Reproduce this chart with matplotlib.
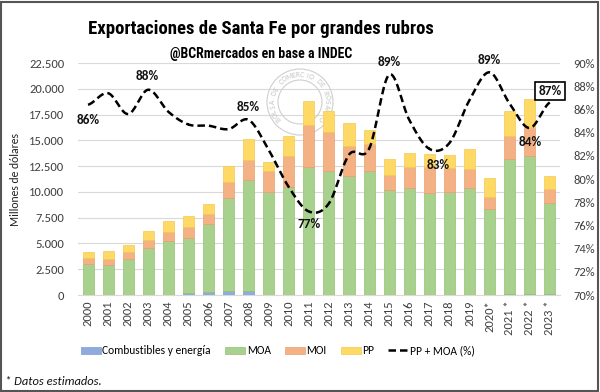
import numpy as np
import matplotlib.pyplot as plt
from matplotlib.patches import Rectangle, Circle

# Data (millones de dólares)
years = ["2000", "2001", "2002", "2003", "2004", "2005", "2006", "2007", "2008",
         "2009", "2010", "2011", "2012", "2013", "2014", "2015", "2016", "2017",
         "2018", "2019", "2020*", "2021 *", "2022 *", "2023 *"]
combustibles = [20, 20, 20, 50, 50, 200, 250, 400, 350, 30, 30, 40, 40, 30, 30,
                20, 20, 20, 20, 20, 20, 60, 60, 60]
moa = [2950, 2890, 3470, 4540, 5210, 5360, 6630, 9000, 10760, 9980, 10470,
       12330, 11940, 11470, 11950, 10150, 10380, 9830, 9990, 10380, 8310,
       13090, 13410, 8820]
moi = [580, 550, 640, 710, 880, 1060, 1000, 1610, 1940, 2040, 3000, 4100,
       3810, 2970, 2620, 1430, 2000, 2520, 2330, 1870, 1170, 2320, 2780, 1390]
pp = [650, 800, 720, 930, 1000, 1030, 970, 1490, 2130, 840, 1910, 2330, 2040,
      2260, 1390, 1580, 1390, 1290, 1260, 1940, 1840, 2360, 2810, 1260]
pct = [86.4, 87.4, 85.6, 87.7, 85.8, 84.7, 84.6, 84.3, 85.1, 82.5, 79.3, 77.2,
       77.9, 82.1, 82.6, 89.0, 85.1, 82.6, 83.1, 86.8, 89.2, 86.5, 84.4, 86.6]

# labels shown on the line: (index, y position in %, text)
pct_labels = [(0, 85.1, "86%"), (2.94, 88.9, "88%"), (8, 86.2, "85%"),
              (11, 76.1, "77%"), (15, 90.1, "89%"), (17.45, 81.2, "83%"),
              (20, 90.3, "89%"), (22.05, 83.2, "84%")]

plt.rcParams['font.family'] = ['Carlito', 'Lato', 'DejaVu Sans']
title_font = ['Roboto Condensed', 'Archivo Narrow', 'PT Sans Narrow',
              'Asap Condensed', 'Barlow Semi Condensed', 'DejaVu Sans']

c_comb = "#8FAADC"
c_moa = "#A9D18E"
c_moi = "#F4B183"
c_pp = "#FFD966"

fig = plt.figure(figsize=(6, 3.92), dpi=100)
ax = fig.add_axes([0.13, 0.2474, 0.803, 0.5918])
ax2 = ax.twinx()

x = np.arange(len(years))
w = 0.55
b1 = np.array(combustibles)
b2 = b1 + np.array(moa)
b3 = b2 + np.array(moi)
ax.bar(x, combustibles, w, color=c_comb, edgecolor="#7F9BCF", linewidth=0.5,
       label="Combustibles y energía", zorder=3)
ax.bar(x, moa, w, bottom=b1, color=c_moa, edgecolor="#93C070", linewidth=0.5,
       label="MOA", zorder=3)
ax.bar(x, moi, w, bottom=b2, color=c_moi, edgecolor="#E9A071", linewidth=0.5,
       label="MOI", zorder=3)
ax.bar(x, pp, w, bottom=b3, color=c_pp, edgecolor="#F2CB4F", linewidth=0.5,
       label="PP", zorder=3)

ax.set_xlim(-0.5, len(years) - 0.5)
ax.set_ylim(0, 22500)
ax.set_yticks(np.arange(0, 22501, 2500))
ax.set_yticklabels([f"{v:,.0f}".replace(",", ".") for v in np.arange(0, 22501, 2500)])
ax.grid(axis="y", color="#D9D9D9", linewidth=0.8, zorder=0)
ax.set_axisbelow(True)
ax.set_xticks(x)
ax.set_xticklabels(years, rotation=90)
ax.tick_params(axis="both", length=0, labelsize=9, colors="#404040")
ax.tick_params(axis="y", pad=10)
ax.tick_params(axis="x", pad=4)
for s in ax.spines.values():
    s.set_visible(False)
for s in ax2.spines.values():
    s.set_visible(False)
ax.spines["bottom"].set_visible(True)
ax.spines["bottom"].set_color("#D9D9D9")
ax.set_ylabel("Millones de dólares", fontsize=8.5, color="#222222", labelpad=6)

# watermark seal behind the bars
seal_c = (3.0, 2.90)
seal_kw = dict(transform=fig.dpi_scale_trans, fill=False, edgecolor="#CFCFCF",
               linewidth=0.8, zorder=1)
ax.add_patch(Circle(seal_c, 0.33, **seal_kw))
ax.add_patch(Circle(seal_c, 0.22, **seal_kw))
seal_txt = "BOLSA DE COMERCIO DE ROSARIO"
for k, ch in enumerate(seal_txt):
    ang = np.deg2rad(218 - k * 256 / (len(seal_txt) - 1))
    ax.text(seal_c[0] + 0.275 * np.cos(ang), seal_c[1] + 0.275 * np.sin(ang), ch,
            transform=fig.dpi_scale_trans, rotation=np.rad2deg(ang) - 90,
            ha="center", va="center", fontsize=5.5, color="#C4C4C4", zorder=1)

# smoothed line (Catmull-Rom through the data points, like Excel smoothing)
p = np.array(pct)
xs, ys = [], []
for i in range(len(p) - 1):
    p0 = p[i - 1] if i > 0 else p[i]
    p3 = p[i + 2] if i + 2 < len(p) else p[i + 1]
    t = np.linspace(0, 1, 20)
    y = 0.5 * ((2 * p[i]) + (-p0 + p[i + 1]) * t
               + (2 * p0 - 5 * p[i] + 4 * p[i + 1] - p3) * t ** 2
               + (-p0 + 3 * p[i] - 3 * p[i + 1] + p3) * t ** 3)
    xs.extend(x[i] + t)
    ys.extend(y)
ax2.plot(xs, ys, color="black", linestyle=(0, (3, 1.6)), linewidth=1.8,
         zorder=4, label="PP + MOA (%)")
ax2.set_ylim(70, 90)
ax2.set_yticks(np.arange(70, 91, 2))
ax2.set_yticklabels([f"{v}%" for v in range(70, 91, 2)])
ax2.tick_params(axis="y", length=0, labelsize=9, colors="#404040", pad=10)

for xi, yi, txt in pct_labels:
    ax2.text(xi, yi, txt, ha="center", va="center", fontsize=9.5,
             fontweight="bold", color="#111111", clip_on=False, zorder=5)
ax2.text(23, 87.6, "87%", ha="center", va="center", fontsize=9.5,
         fontweight="bold", color="#111111", zorder=6,
         bbox=dict(boxstyle="square,pad=0.25", fc="white", ec="black", lw=1.2))

fig.text(0.435, 0.925, "Exportaciones de Santa Fe por grandes rubros",
         ha="center", va="center", fontsize=13.5, fontweight="bold",
         family=title_font)
fig.text(0.435, 0.862, "@BCRmercados en base a INDEC", ha="center", va="center",
         fontsize=10, fontweight="bold", family=title_font)

h1, l1 = ax.get_legend_handles_labels()
h2, l2 = ax2.get_legend_handles_labels()
fig.legend(h1 + h2, l1 + l2, loc="center", bbox_to_anchor=(0.463, 0.105),
           ncol=5, frameon=False, fontsize=8.3, handlelength=1.75,
           handleheight=0.6, columnspacing=1.2, handletextpad=0.15)

fig.text(0.008, 0.028, "* Datos estimados.", fontsize=9, style="italic",
         ha="left", va="center", color="#111111")

fig.patches.append(Rectangle((0.002, 0.003), 0.995, 0.993, transform=fig.transFigure,
                             fill=False, edgecolor="#555555", linewidth=1.5))

fig.savefig("out.png", dpi=100)
